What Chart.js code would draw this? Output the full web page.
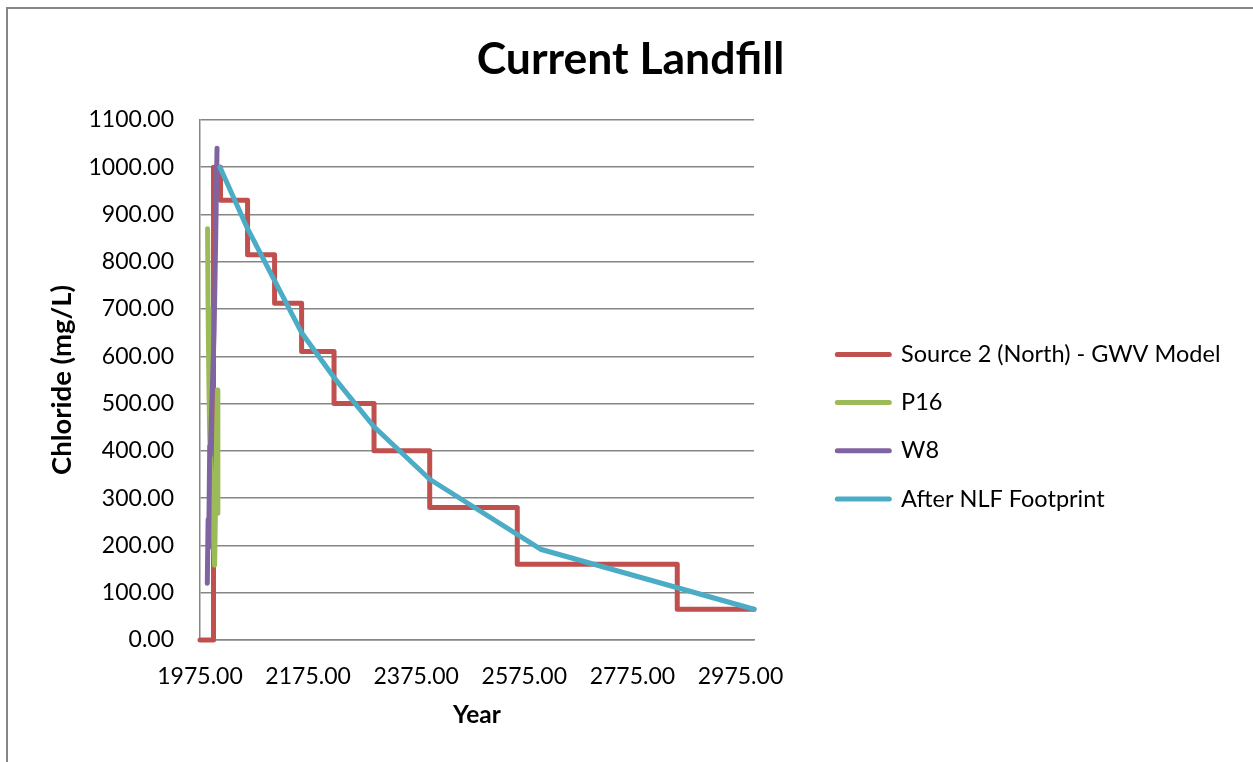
<!DOCTYPE html>
<html>
<head>
<meta charset="utf-8">
<script src="https://cdn.jsdelivr.net/npm/chart.js@4.4.1/dist/chart.umd.min.js"></script>
<style>
  html, body { margin: 0; padding: 0; background: #fff; }
  canvas { display: block; }
</style>
</head>
<body>
<canvas id="chart" width="1253" height="762"></canvas>
<script>
// Source 2 (North) - GWV Model: stepped chloride source term
const sourceYears  = [1975, 2000, 2000, 2013, 2013, 2063, 2063, 2113, 2113, 2163, 2163, 2223, 2223, 2297, 2297, 2400, 2400, 2562, 2562, 2858, 2858, 3000];
const sourceValues = [0, 0, 1000, 1000, 930, 930, 815, 815, 712, 712, 610, 610, 500, 500, 400, 400, 280, 280, 160, 160, 65, 65];

// P16 monitoring well
const p16Years  = [1989, 1990, 1991.5, 1993, 2002, 2007, 2008];
const p16Values = [870, 700, 540, 430, 158, 529, 268];

// W8 monitoring well
const w8Years  = [1988.5, 1990, 1991, 1993, 1994, 2001, 2004, 2006.5];
const w8Values = [120, 255, 195, 410, 390, 650, 850, 1040];

// After NLF Footprint
const nlfYears  = [2012, 2063, 2113, 2163, 2223, 2297, 2400, 2605, 3000];
const nlfValues = [1000, 870, 760, 650, 555, 451, 340, 192, 65];

const seriesNames  = ['Source 2 (North) - GWV Model', 'P16', 'W8', 'After NLF Footprint'];
const seriesColors = ['#C0504D', '#9BBB59', '#8064A2', '#4BACC6'];

const xTickValues = [1975, 2175, 2375, 2575, 2775, 2975];
const yTickValues = [0, 100, 200, 300, 400, 500, 600, 700, 800, 900, 1000, 1100];

const FONT = 'Lato';
const GRID = '#868686';
const LINE_W = 5;

const toPoints = (xs, ys) => xs.map((x, i) => ({ x: x, y: ys[i] }));

function series(idx, xs, ys, order) {
  const c = seriesColors[idx];
  return {
    label: seriesNames[idx],
    data: toPoints(xs, ys),
    showLine: true,
    borderColor: c,
    backgroundColor: c,
    borderWidth: LINE_W,
    borderCapStyle: 'round',
    borderJoinStyle: 'round',
    pointRadius: 0,
    pointHoverRadius: 0,
    pointBorderWidth: LINE_W,
    pointBorderColor: c,
    pointBackgroundColor: c,
    fill: false,
    clip: false,
    order: order
  };
}

// outer frame of the chart object
const frame = {
  id: 'frame',
  beforeDraw(chart) {
    const { ctx, width, height } = chart;
    ctx.save();
    ctx.fillStyle = '#ffffff';
    ctx.fillRect(0, 0, width, height);
    ctx.strokeStyle = GRID;
    ctx.lineWidth = 2;
    ctx.beginPath();
    ctx.moveTo(7, height);
    ctx.lineTo(7, 8);
    ctx.lineTo(width, 8);
    ctx.stroke();
    ctx.restore();
  }
};

new Chart(document.getElementById('chart'), {
  type: 'scatter',
  data: {
    datasets: [
      series(0, sourceYears, sourceValues, 4),
      series(1, p16Years, p16Values, 3),
      series(2, w8Years, w8Values, 2),
      series(3, nlfYears, nlfValues, 1)
    ]
  },
  options: {
    responsive: false,
    animation: false,
    events: [],
    layout: { padding: { left: 31.4, right: 23.4, top: 0, bottom: 0 } },
    plugins: {
      tooltip: { enabled: false },
      title: {
        display: true,
        text: 'Current Landfill',
        color: '#000',
        font: { family: FONT, size: 44.5, weight: 'bold', lineHeight: 1.2 },
        padding: { top: 32.5, bottom: 34 }
      },
      legend: {
        display: true,
        position: 'right',
        maxWidth: 417,
        title: {
          display: true,
          text: '',
          color: 'rgba(0,0,0,0)',
          font: { family: FONT, size: 10, lineHeight: 1 },
          padding: { top: 81.4, bottom: 0 }
        },
        labels: {
          color: '#000',
          font: { family: FONT, size: 23.5 },
          padding: 24.7,
          usePointStyle: true,
          pointStyle: 'line',
          pointStyleWidth: 52,
          sort: (a, b) => a.datasetIndex - b.datasetIndex,
          generateLabels(chart) {
            return Chart.defaults.plugins.legend.labels.generateLabels(chart).map(item => {
              item.lineCap = 'round';
              item.lineWidth = LINE_W;
              return item;
            });
          }
        }
      }
    },
    scales: {
      x: {
        type: 'linear',
        position: 'bottom',
        min: 1975,
        max: 3000,
        afterBuildTicks: s => { s.ticks = xTickValues.map(v => ({ value: v })); },
        afterFit: s => { s.height = 122; },
        grid: { display: false, drawTicks: false },
        border: { display: true, color: GRID, width: 1.5 },
        ticks: {
          autoSkip: false,
          maxRotation: 0,
          padding: 23,
          color: '#000',
          font: { family: FONT, size: 23 },
          callback: v => Number(v).toFixed(2)
        },
        title: {
          display: true,
          text: 'Year',
          color: '#000',
          font: { family: FONT, size: 24.5, weight: 'bold', lineHeight: 1.2 },
          padding: { top: 0, bottom: 32 }
        }
      },
      y: {
        type: 'linear',
        position: 'left',
        min: 0,
        max: 1100,
        afterBuildTicks: s => { s.ticks = yTickValues.map(v => ({ value: v })); },
        afterFit: s => { s.width = 168.6; },
        grid: { color: GRID, lineWidth: 1.5, drawTicks: false },
        border: { display: true, color: GRID, width: 1.5 },
        ticks: {
          padding: 26,
          color: '#000',
          font: { family: FONT, size: 23 },
          callback: v => Number(v).toFixed(2)
        },
        title: {
          display: true,
          text: 'Chloride (mg/L)',
          color: '#000',
          font: { family: FONT, size: 27.5, weight: 'bold', lineHeight: 1.2 },
          padding: { top: 14.1, bottom: 0 }
        }
      },
      gap: {
        type: 'linear',
        position: 'right',
        display: true,
        grid: { display: false, drawTicks: false },
        border: { display: false },
        ticks: { display: false },
        afterFit: s => { s.width = 58.6; }
      }
    }
  },
  plugins: [frame]
});
</script>
</body>
</html>
